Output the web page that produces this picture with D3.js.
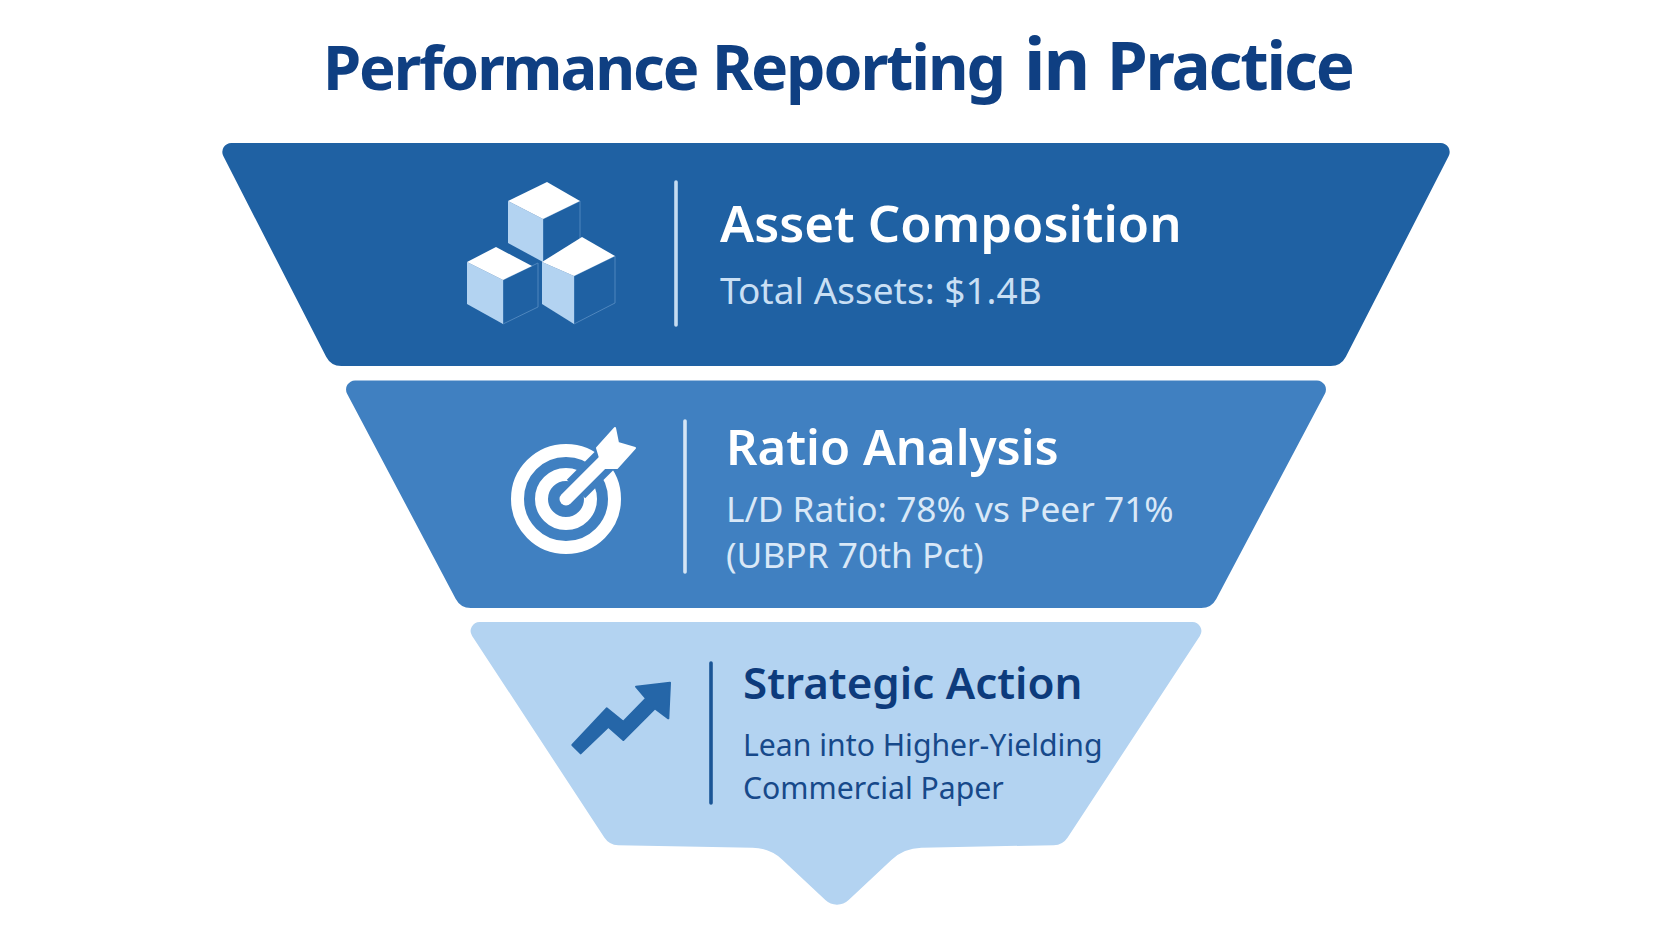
<!DOCTYPE html>
<html>
<head>
<meta charset="utf-8">
<script src="https://cdnjs.cloudflare.com/ajax/libs/d3/7.8.5/d3.min.js"></script>
<style>
  html, body { margin: 0; padding: 0; background: #fff; }
  svg { display: block; }
  text { font-family: "Noto Sans", sans-serif; }
</style>
</head>
<body>
<svg></svg>
<script>
// chart content
var titleWords = ["Performance", "Reporting", "in", "Practice"];
var stages = ["Asset Composition", "Ratio Analysis", "Strategic Action"];
var stageDetails = [
  ["Total Assets: $1.4B"],
  ["L/D Ratio: 78% vs Peer 71%", "(UBPR 70th Pct)"],
  ["Lean into Higher-Yielding", "Commercial Paper"]
];
// funnel width of each stage, top and bottom edge, % of the widest edge
var topShare = [100.8, 80.7, 60.7];
var bottomShare = [82.2, 61.1, 36.9];

var width = 1672, height = 941;
var centerX = 836;

var fills = ["#1f61a3", "#4080c1", "#b3d3f1"];
var titleColor = ["#ffffff", "#ffffff", "#0d3b7c"];
var detailColor = ["#c9dff4", "#d9e8f7", "#17498a"];
var ruleColor = ["#c5dcf2", "#d5e5f5", "#1a5596"];

var svg = d3.select("svg").attr("width", width).attr("height", height);

var y = d3.scaleBand().domain(stages).range([143, 845]).paddingInner(0.0689);
var w = d3.scaleLinear().domain([0, 100]).range([0, 1229]);

// per stage text placement
var ruleX = [676, 685, 711], ruleTop = [182, 421, 663], ruleBottom = [325, 572, 803];
var textX = [720, 726, 743];
var titleBase = [242, 465, 699];
var titleSize = [50.8, 49, 43.9];
var detailBase = [[304], [522, 568], [756, 799]];
var detailSize = [37, 35.3, 30.2];
var nudgeTop = [0, -2, 0], nudgeBottom = [0, 2.5, 0];
var wordX = [323, 712, 1024, 1107], wordSize = [61.5, 62.5, 72, 65.5];

svg.append("text")
    .attr("y", 90)
    .attr("font-weight", 700)
    .attr("letter-spacing", -2.1)
    .attr("fill", "#0f3f82")
  .selectAll("tspan")
    .data(titleWords)
  .enter().append("tspan")
    .attr("x", function(d, i) { return wordX[i]; })
    .attr("font-size", function(d, i) { return wordSize[i]; })
    .text(function(d) { return d; });

// rounded polygon through d3.path
function roundedPath(pts) {
  var p = d3.path();
  var n = pts.length;
  var a = pts[n - 1], b = pts[0];
  p.moveTo((a[0] + b[0]) / 2, (a[1] + b[1]) / 2);
  pts.forEach(function(pt, i) {
    var next = pts[(i + 1) % n];
    p.arcTo(pt[0], pt[1], next[0], next[1], pt[2]);
  });
  p.closePath();
  return p.toString();
}

function stagePoints(d, i) {
  var t = y(d) + nudgeTop[i];
  var b = y(d) + y.bandwidth() + nudgeBottom[i];
  var tw = w(topShare[i]) / 2, bw = w(bottomShare[i]) / 2;
  var pts = [
    [centerX - tw, t, 9],
    [centerX + tw, t, 9],
    [centerX + bw, b, 17]
  ];
  if (i === stages.length - 1) {
    // pointed tip under the last stage
    pts.push([904, b + 3, 45], [837, 911, 17], [770, b + 3, 45]);
  }
  pts.push([centerX - bw, b, 17]);
  return pts;
}

var stage = svg.selectAll(".stage")
    .data(stages)
  .enter().append("g")
    .attr("class", "stage");

stage.append("path")
    .attr("d", function(d, i) { return roundedPath(stagePoints(d, i)); })
    .attr("fill", function(d, i) { return fills[i]; });

stage.append("line")
    .attr("x1", function(d, i) { return ruleX[i]; })
    .attr("x2", function(d, i) { return ruleX[i]; })
    .attr("y1", function(d, i) { return ruleTop[i]; })
    .attr("y2", function(d, i) { return ruleBottom[i]; })
    .attr("stroke", function(d, i) { return ruleColor[i]; })
    .attr("stroke-width", 3.6)
    .attr("stroke-linecap", "round");

stage.append("text")
    .attr("class", "stage-title")
    .attr("x", function(d, i) { return textX[i]; })
    .attr("y", function(d, i) { return titleBase[i]; })
    .attr("font-size", function(d, i) { return titleSize[i]; })
    .attr("font-weight", 600)
    .attr("fill", function(d, i) { return titleColor[i]; })
    .text(function(d) { return d; });

stage.each(function(d, i) {
  d3.select(this).selectAll(".detail")
      .data(stageDetails[i])
    .enter().append("text")
      .attr("class", "detail")
      .attr("x", textX[i])
      .attr("y", function(t, j) { return detailBase[i][j]; })
      .attr("font-size", detailSize[i])
      .attr("fill", detailColor[i])
      .text(function(t) { return t; });
});

// icons
var icons = svg.append("g").attr("class", "icons");
var poly = d3.line();

// cubes: top face, left face, right face
var cubes = [
  [[[547,182],[580,201],[543,219],[508,201]], [[508,201],[543,219],[543,262],[508,243]], [[543,219],[580,201],[580,240],[543,262]]],
  [[[496,247],[532,266],[503,280],[467,262]], [[467,262],[503,280],[503,324],[467,304]], [[503,280],[538,263],[538,307],[503,324]]],
  [[[582,237],[615,256],[574,276],[542,262]], [[542,262],[574,276],[574,324],[542,304]], [[574,276],[615,256],[615,303],[574,324]]]
];
cubes.forEach(function(c) {
  icons.append("path").attr("d", poly(c[2]) + "Z")
      .attr("fill", fills[0]).attr("stroke", "#4f86bd").attr("stroke-width", 1);
  icons.append("path").attr("d", poly(c[1]) + "Z").attr("fill", "#b3d3f1");
  icons.append("path").attr("d", poly(c[0]) + "Z").attr("fill", "#ffffff");
});

// target
[[48.5, 13], [24.5, 13]].forEach(function(r) {
  icons.append("circle")
      .attr("cx", 566).attr("cy", 499).attr("r", r[0])
      .attr("fill", "none").attr("stroke", "#ffffff").attr("stroke-width", r[1]);
});
icons.append("line")
    .attr("x1", 576).attr("y1", 489).attr("x2", 622).attr("y2", 443)
    .attr("stroke", fills[1]).attr("stroke-width", 26);
icons.append("line")
    .attr("x1", 566).attr("y1", 499).attr("x2", 610).attr("y2", 455)
    .attr("stroke", "#ffffff").attr("stroke-width", 13).attr("stroke-linecap", "round");
icons.append("path")
    .attr("d", poly([[597,448],[615,428],[618,443],[635,448],[617,468],[603,468]]) + "Z")
    .attr("fill", "#ffffff").attr("stroke", "#ffffff").attr("stroke-width", 2).attr("stroke-linejoin", "round");

// trend arrow
var arrowPts = [[97,315],[200,205],[250,245],[318,175],[288,140],[390,128],[385,235],[345,205],[250,300],[205,260],[122,340]]
    .map(function(p) { return [540 + p[0] / 3, 640 + p[1] / 3]; });
icons.append("path")
    .attr("d", poly(arrowPts) + "Z")
    .attr("fill", "#2566a8").attr("stroke", "#2566a8").attr("stroke-width", 2).attr("stroke-linejoin", "round");
</script>
</body>
</html>
